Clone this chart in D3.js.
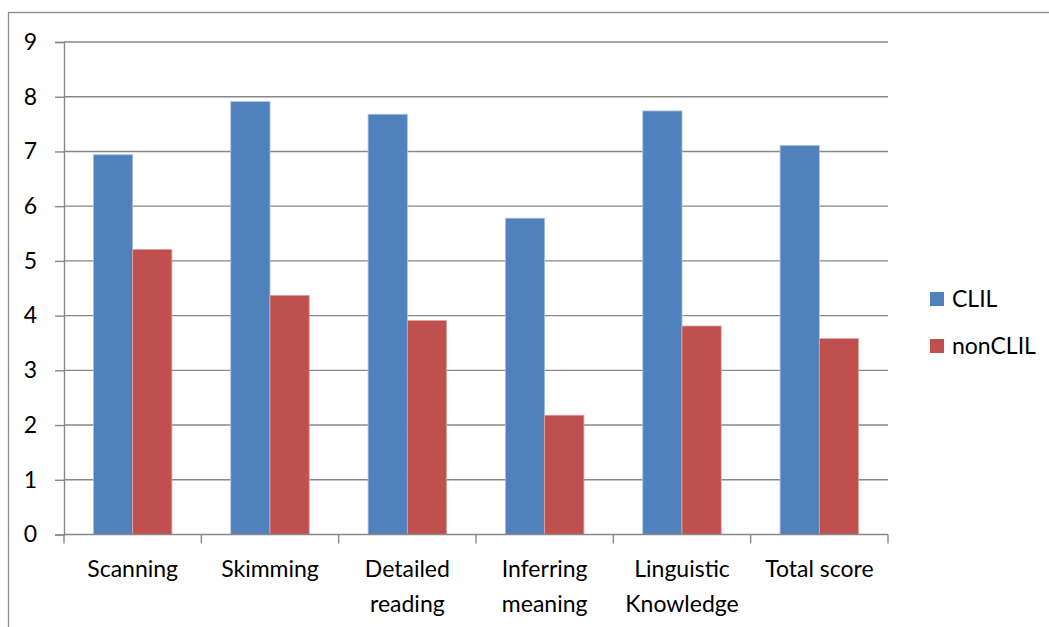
<!DOCTYPE html>
<html>
<head>
<meta charset="utf-8">
<script src="https://cdn.jsdelivr.net/npm/d3@7"></script>
<style>
  html, body { margin: 0; padding: 0; background: #fff; }
  svg text { font-family: "Lato", "Open Sans", sans-serif; fill: #000; }
</style>
</head>
<body>
<svg id="chart" width="1049" height="627"></svg>
<script>
// Reading-skill scores, CLIL vs non-CLIL groups
const categories = [["Scanning"], ["Skimming"], ["Detailed", "reading"], ["Inferring", "meaning"], ["Linguistic", "Knowledge"], ["Total score"]];
const seriesNames = ["CLIL", "nonCLIL"];
const clilValues = [6.94, 7.91, 7.68, 5.78, 7.74, 7.11];
const nonClilValues = [5.21, 4.37, 3.91, 2.18, 3.81, 3.58];
const yTicks = [0, 1, 2, 3, 4, 5, 6, 7, 8, 9];
const colors = ["#4F81BD", "#C0504D"];

const svg = d3.select("#chart");
const plot = { left: 64, right: 888, top: 42, bottom: 534.5 };
const fontSize = 23;

// outer chart frame
svg.append("rect")
  .attr("x", 8.5).attr("y", 12.5)
  .attr("width", 1100).attr("height", 700)
  .attr("fill", "none").attr("stroke", "#8c8c8c").attr("stroke-width", 1.3);

const x0 = d3.scaleBand().domain(d3.range(categories.length)).range([plot.left, plot.right]);
const gapRatio = 1.5;
const barW = x0.bandwidth() / (2 + gapRatio);
const y = d3.scaleLinear().domain([0, 9]).range([plot.bottom, plot.top]);

// horizontal gridlines
svg.append("g").selectAll("line").data(yTicks.filter(d => d > 0)).join("line")
  .attr("x1", plot.left).attr("x2", plot.right)
  .attr("y1", d => y(d)).attr("y2", d => y(d))
  .attr("stroke", "#888").attr("stroke-width", 1.4);

// y axis
const yAxis = d3.axisLeft(y).tickValues(yTicks).tickSize(9).tickPadding(18).tickFormat(d3.format("d"));
const gy = svg.append("g").attr("transform", `translate(${plot.left},0)`).call(yAxis);
gy.select(".domain").attr("stroke", "#888").attr("stroke-width", 1.4);
gy.selectAll(".tick line").attr("stroke", "#888").attr("stroke-width", 1.4);
gy.selectAll(".tick text").attr("font-size", fontSize).style("font-family", "Lato, sans-serif");

// bars
const series = [clilValues, nonClilValues];
series.forEach((vals, si) => {
  svg.append("g").selectAll("rect").data(vals).join("rect")
    .attr("x", (d, i) => x0(i) + barW * (gapRatio / 2) + si * barW)
    .attr("y", d => y(d))
    .attr("width", barW)
    .attr("height", d => y(0) - y(d))
    .attr("fill", colors[si])
    .attr("stroke", si === 0 ? "#a9c2e2" : "#dca3a1")
    .attr("stroke-width", 0.8);
});

// x axis line and category boundary ticks
const xAxisG = svg.append("g");
xAxisG.append("line")
  .attr("x1", plot.left).attr("x2", plot.right)
  .attr("y1", y(0)).attr("y2", y(0))
  .attr("stroke", "#888").attr("stroke-width", 1.4);
xAxisG.selectAll("line.tk").data(d3.range(categories.length + 1)).join("line")
  .attr("class", "tk")
  .attr("x1", i => plot.left + i * x0.step()).attr("x2", i => plot.left + i * x0.step())
  .attr("y1", y(0)).attr("y2", y(0) + 9)
  .attr("stroke", "#888").attr("stroke-width", 1.4);

// category labels
const lbl = xAxisG.selectAll("text").data(categories).join("text")
  .attr("text-anchor", "middle")
  .attr("font-size", fontSize)
  .attr("transform", (d, i) => `translate(${x0(i) + x0.bandwidth() / 2},577)`);
lbl.selectAll("tspan").data(d => d).join("tspan")
  .attr("x", 0).attr("dy", (d, j) => j === 0 ? 0 : 35)
  .text(d => d);

// legend
const legend = svg.append("g").selectAll("g").data(seriesNames).join("g")
  .attr("transform", (d, i) => `translate(930,${292 + i * 47})`);
legend.append("rect").attr("width", 14).attr("height", 14).attr("fill", (d, i) => colors[i]);
legend.append("text").attr("x", 22).attr("y", 15).attr("font-size", fontSize).text(d => d);
</script>
</body>
</html>
